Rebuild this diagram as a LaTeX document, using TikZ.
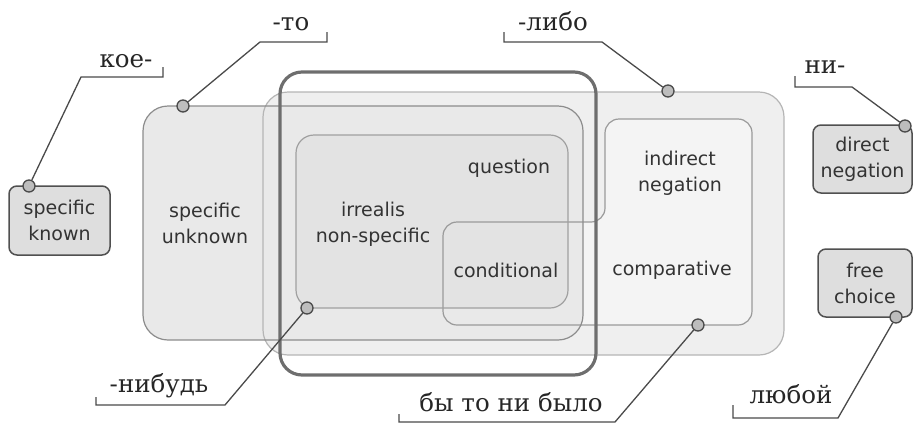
\documentclass[tikz,border=0pt]{standalone}
\usepackage{fontspec}
\setmainfont{DejaVu Sans}
\newfontfamily\lblfont{DejaVu Serif}
\definecolor{libofill}{HTML}{EFEFEF}
\definecolor{libodraw}{HTML}{B5B5B5}
\definecolor{lfill}{HTML}{F4F4F4}
\definecolor{ldraw}{HTML}{9A9A9A}
\definecolor{tofill}{HTML}{E9E9E9}
\definecolor{todraw}{HTML}{8C8C8C}
\definecolor{irrfill}{HTML}{E3E3E3}
\definecolor{irrdraw}{HTML}{A0A0A0}
\definecolor{thickc}{HTML}{6E6E6E}
\definecolor{sbfill}{HTML}{DEDEDE}
\definecolor{sbdraw}{HTML}{505050}
\definecolor{txtc}{HTML}{333333}
\definecolor{leadc}{HTML}{4A4A4A}
\definecolor{dotfill}{HTML}{BDBDBD}
\begin{document}
\begin{tikzpicture}[x=1pt,y=-1pt,
  regtext/.style={text=txtc,font=\fontsize{19}{26}\selectfont,align=center,inner sep=0pt},
  smallbox/.style={draw=sbdraw,fill=sbfill,line width=1.5pt,rounded corners=8pt,inner sep=0pt,
     text=txtc,font=\fontsize{19}{26}\selectfont,align=center},
  lbl/.style={font=\lblfont\fontsize{24.5}{30}\selectfont,text=black!85,inner sep=0pt,anchor=base},
  lead/.style={draw=leadc,line width=1.3pt},
  dot/.style={circle,draw=leadc,fill=dotfill,line width=1.3pt,minimum size=12pt,inner sep=0pt}]
\useasboundingbox (0,0) rectangle (913,424);
% fills
\fill[libofill,rounded corners=25pt] (263,92) rectangle (784,355);
\fill[lfill,rounded corners=14pt] (680,119) -- (752,119) -- (752,325) -- (443,325) -- (443,222) -- (605,222) -- (605,119) -- cycle;
\fill[tofill,rounded corners=25pt] (143,106) rectangle (583,340);
\fill[irrfill,rounded corners=18pt] (296,135) rectangle (568,308);
% borders
\draw[libodraw,line width=1.2pt,rounded corners=25pt] (263,92) rectangle (784,355);
\draw[ldraw,line width=1.2pt,rounded corners=14pt] (680,119) -- (752,119) -- (752,325) -- (443,325) -- (443,222) -- (605,222) -- (605,119) -- cycle;
\draw[todraw,line width=1.2pt,rounded corners=25pt] (143,106) rectangle (583,340);
\draw[irrdraw,line width=1.2pt,rounded corners=18pt] (296,135) rectangle (568,308);
\draw[thickc,line width=3.2pt,rounded corners=22pt] (280,72) rectangle (596,375);
% region texts
\node[regtext] (spu) at (205,223) {specific\\unknown};
\node[regtext] (irr) at (373,224) {irrealis\\non-specific};
\node[regtext] (que) at (509,168) {question};
\node[regtext] (con) at (506,270) {conditional};
\node[regtext] (ind) at (680,173) {indirect\\negation};
\node[regtext] (cmp) at (672,270) {comparative};
% small boxes
\node[smallbox,minimum width=101pt,minimum height=69pt] (spk) at (59.5,220.5) {specific\\known};
\node[smallbox,minimum width=99pt,minimum height=68pt] (dng) at (862.5,159) {direct\\negation};
\node[smallbox,minimum width=94pt,minimum height=68pt] (frc) at (865,283) {free\\choice};
% labels
\node[lbl] (koe) at (126,67) {кое-};
\node[lbl] (to) at (291,30) {-то};
\node[lbl] (libo) at (553,30) {-либо};
\node[lbl] (ni) at (825,73) {ни-};
\node[lbl] (nib) at (159,392) {-нибудь};
\node[lbl] (byt) at (511,411) {бы то ни было};
\node[lbl] (lyu) at (791,403) {любой};
% bracket coordinates
\coordinate (koeT) at (163,67); \coordinate (koeC) at (81,77);
\coordinate (toT) at (327,32); \coordinate (toC) at (260,42);
\coordinate (liboT) at (504,32); \coordinate (liboC) at (602,42);
\coordinate (niT) at (795,76); \coordinate (niC) at (852,87);
\coordinate (nibT) at (96,397); \coordinate (nibC) at (225,405);
\coordinate (bytT) at (399,414); \coordinate (bytC) at (615,422);
\coordinate (lyuT) at (733,405); \coordinate (lyuC) at (838,418);
% dots
\node[dot] (koeD) at (29,186) {};
\node[dot] (toD) at (183,106) {};
\node[dot] (liboD) at (668,91) {};
\node[dot] (niD) at (905,126) {};
\node[dot] (nibD) at (307,308) {};
\node[dot] (bytD) at (698,325) {};
\node[dot] (lyuD) at (896,317) {};
% leaders
\draw[lead] (koeT) -- (koeT |- koeC) -- (koeC) -- (koeD);
\draw[lead] (toT) -- (toT |- toC) -- (toC) -- (toD);
\draw[lead] (liboT) -- (liboT |- liboC) -- (liboC) -- (liboD);
\draw[lead] (niT) -- (niT |- niC) -- (niC) -- (niD);
\draw[lead] (nibT) -- (nibT |- nibC) -- (nibC) -- (nibD);
\draw[lead] (bytT) -- (bytT |- bytC) -- (bytC) -- (bytD);
\draw[lead] (lyuT) -- (lyuT |- lyuC) -- (lyuC) -- (lyuD);
\end{tikzpicture}
\end{document}
